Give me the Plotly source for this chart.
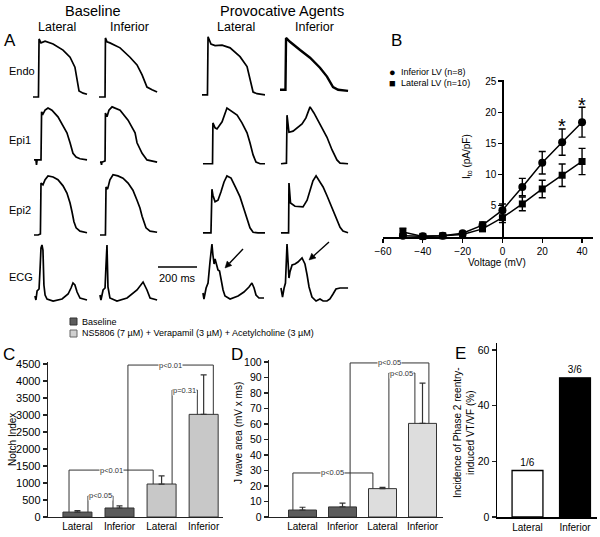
import math
import plotly.graph_objects as go

W, H = 600, 537
FONT = "Arial, 'Liberation Sans', sans-serif"


def fx(px):
    return px / W


def fy(py):
    return 1 - py / H


# ---------------- Panel B data (I-V relation) ----------------
voltage_mv = [-50, -40, -30, -20, -10, 0, 10, 20, 30, 40]
ito_inferior = [0.2, 0.1, 0.2, 0.6, 1.9, 4.3, 8.0, 11.9, 15.2, 18.4]
ito_inferior_err = [0.3, 0.1, 0.2, 0.3, 0.5, 1.0, 1.4, 1.8, 2.1, 2.4]
ito_lateral = [0.8, 0.1, 0.2, 0.4, 1.3, 3.1, 5.3, 7.7, 9.9, 12.1]
ito_lateral_err = [0.6, 0.1, 0.1, 0.2, 0.4, 0.8, 1.1, 1.4, 1.8, 2.1]
b_xticks = [-60, -40, -20, 0, 20, 40]
b_yticks = [5, 10, 15, 20, 25]

# ---------------- Panels C, D, E data ----------------
group_labels = ["Lateral", "Inferior", "Lateral", "Inferior"]
notch_index = [145, 265, 970, 3020]
notch_index_err = [40, 60, 240, 1160]
jwave_area = [4.5, 6.5, 18.3, 60.4]
jwave_area_err = [1.8, 2.4, 0.8, 26.0]
c_yticks = [0, 500, 1000, 1500, 2000, 2500, 3000, 3500, 4000, 4500]
d_yticks = [0, 10, 20, 30, 40, 50, 60, 70, 80, 90, 100]
e_labels = ["Lateral", "Inferior"]
e_incidence = [16.7, 50.0]
e_fraction = ["1/6", "3/6"]
e_yticks = [0, 20, 40, 60]

# ---------------- Panel A traces (time ms, membrane potential mV / ECG mV) ----------------
endo_base_lat_t = [0, 28, 31, 41, 62, 103, 154, 190, 215, 226, 236, 257, 277]
endo_base_lat_v = [-85, -85, 20, 13, 16, 11, 0, -13, -31, -54, -74, -78, -80]
endo_base_inf_t = [0, 31, 33, 41, 56, 108, 159, 195, 221, 246, 272, 298]
endo_base_inf_v = [-85, -85, 22, 15, 13, 4, -13, -27, -45, -67, -72, -76]
endo_prov_lat_t = [0, 28, 31, 46, 67, 103, 144, 195, 231, 246, 262, 282, 323]
endo_prov_lat_v = [-81, -81, 24, 11, 8, 9, 4, -12, -30, -54, -76, -79, -81]
endo_prov_inf_t = [0, 28, 31, 51, 103, 154, 205, 241, 272, 298, 349]
endo_prov_inf_v = [-72, -72, 22, 15, 0, -14, -32, -48, -67, -72, -74]

epi1_base_lat_t = [5, 15, 18, 21, 41, 44, 51, 62, 77, 97, 128, 154, 174, 190, 205, 221, 241, 277]
epi1_base_lat_v = [-83, -83, -92, -83, -83, 4, 0, 7, 11, 7, -5, -20, -34, -52, -71, -78, -81, -83]
epi1_base_inf_t = [5, 10, 13, 15, 31, 33, 41, 51, 67, 108, 149, 185, 195, 221, 246, 298]
epi1_base_inf_v = [-87, -87, -92, -87, -85, 2, -5, 7, 13, 7, -11, -34, -52, -71, -83, -87]
epi1_prov_lat_t = [5, 54, 56, 67, 77, 103, 128, 154, 180, 205, 231, 246, 262, 277, 298, 323]
epi1_prov_lat_v = [-90, -90, -16, -25, -27, -14, 11, 5, -2, -16, -34, -52, -74, -87, -90, -90]
epi1_prov_inf_t = [5, 33, 36, 41, 46, 67, 87, 113, 133, 154, 174, 195, 221, 241, 267, 292, 308, 349]
epi1_prov_inf_v = [-90, -89, -2, -20, -33, -31, -25, -18, -7, 13, 2, -11, -29, -42, -65, -83, -89, -90]

epi2_base_lat_t = [5, 26, 38, 41, 51, 62, 77, 103, 128, 154, 174, 190, 200, 210, 221, 241, 277]
epi2_base_lat_v = [-85, -85, -83, 9, 6, 15, 22, 20, 15, 4, -9, -27, -43, -61, -72, -78, -81]
epi2_base_inf_t = [5, 33, 36, 44, 56, 72, 97, 123, 149, 174, 195, 210, 221, 231, 241, 262, 298]
epi2_base_inf_v = [-85, -85, 2, -2, 15, 24, 22, 18, 9, -4, -22, -36, -51, -63, -72, -78, -80]
epi2_prov_lat_t = [5, 46, 51, 56, 67, 82, 97, 113, 128, 149, 174, 195, 215, 231, 246, 262, 287, 323]
epi2_prov_lat_v = [-81, -81, -2, -13, -25, -22, -7, 11, 22, 18, 0, -16, -38, -54, -72, -80, -81, -81]
epi2_prov_inf_t = [5, 44, 46, 49, 54, 77, 118, 139, 154, 169, 185, 205, 221, 241, 256, 277, 292, 308, 323, 349]
epi2_prov_inf_v = [-81, -81, 9, -13, -27, -33, -34, -22, -4, 13, 22, 11, 2, -14, -27, -45, -58, -71, -78, -81]

ecg_base_lat_t = [10, 15, 21, 31, 36, 41, 46, 51, 56, 62, 72, 103, 149, 180, 195, 205, 215, 226, 241, 277]
ecg_base_lat_v = [0.06, -0.02, 0.16, 0.2, 0.58, 1.02, 1.08, 0.98, 0.28, 0.08, 0, -0.04, 0, 0.1, 0.22, 0.32, 0.28, 0.14, 0.02, -0.02]
ecg_base_inf_t = [5, 10, 21, 31, 36, 41, 46, 56, 92, 144, 195, 226, 246, 262, 298]
ecg_base_inf_v = [0.08, -0.02, 0.18, 0.22, 0.68, 1.08, 0.24, 0.02, -0.04, 0.02, 0.18, 0.34, 0.18, 0.02, -0.02]
ecg_prov_lat_t = [5, 10, 21, 31, 41, 46, 51, 56, 62, 67, 74, 82, 90, 97, 108, 118, 144, 185, 215, 241, 256, 267, 277, 292, 318]
ecg_prov_lat_v = [0.12, 0, 0.22, 0.32, 0.74, 1.02, 1.1, 0.88, 0.7, 0.8, 0.7, 0.58, 0.56, 0.42, 0.18, 0.06, 0, 0.06, 0.14, 0.24, 0.32, 0.22, 0.08, 0.02, 0.02]
ecg_prov_inf_t = [5, 13, 21, 28, 36, 41, 46, 51, 62, 77, 92, 113, 128, 139, 149, 164, 185, 205, 221, 241, 256, 272, 287, 308, 349]
ecg_prov_inf_v = [0.22, 0.04, 0.22, 0.32, 1.1, 0.74, 0.42, 0.54, 0.68, 0.7, 0.74, 0.82, 0.7, 0.48, 0.24, 0.04, -0.04, 0, -0.04, -0.04, 0, 0.1, 0.2, 0.22, 0.22]

fig = go.Figure()

# ---------------- Panel A ----------------
PX_PER_MS = 39 / 200.0
MV_PX = 58 / 105.0
T_RANGE = [0, 360]
AP_RANGE = [-95, 30]
ECG_RANGE = [-0.15, 1.25]
ECG_PX = 50.0
col_px = [33, 99, 202, 280]
ap_rest_px = [97, 161, 235]
ecg_zero_px = 299

layout_axes = {}
for i, x0 in enumerate(col_px):
    n = 5 + i
    layout_axes["xaxis%d" % n] = dict(domain=[fx(x0), fx(x0 + T_RANGE[1] * PX_PER_MS)], range=T_RANGE,
                                      visible=False, anchor="y%d" % n, fixedrange=True, automargin=False)
for j, ref in enumerate(ap_rest_px):
    n = 5 + j
    top = ref - (AP_RANGE[1] + 85) * MV_PX
    bot = ref + (-85 - AP_RANGE[0]) * MV_PX
    layout_axes["yaxis%d" % n] = dict(domain=[fy(bot), fy(top)], range=AP_RANGE, visible=False,
                                      anchor="x%d" % n, fixedrange=True, automargin=False)
layout_axes["yaxis8"] = dict(domain=[fy(ecg_zero_px - ECG_RANGE[0] * ECG_PX), fy(ecg_zero_px - ECG_RANGE[1] * ECG_PX)],
                             range=ECG_RANGE, visible=False, anchor="x8", fixedrange=True, automargin=False)

rows = [
    [(endo_base_lat_t, endo_base_lat_v), (endo_base_inf_t, endo_base_inf_v),
     (endo_prov_lat_t, endo_prov_lat_v), (endo_prov_inf_t, endo_prov_inf_v)],
    [(epi1_base_lat_t, epi1_base_lat_v), (epi1_base_inf_t, epi1_base_inf_v),
     (epi1_prov_lat_t, epi1_prov_lat_v), (epi1_prov_inf_t, epi1_prov_inf_v)],
    [(epi2_base_lat_t, epi2_base_lat_v), (epi2_base_inf_t, epi2_base_inf_v),
     (epi2_prov_lat_t, epi2_prov_lat_v), (epi2_prov_inf_t, epi2_prov_inf_v)],
    [(ecg_base_lat_t, ecg_base_lat_v), (ecg_base_inf_t, ecg_base_inf_v),
     (ecg_prov_lat_t, ecg_prov_lat_v), (ecg_prov_inf_t, ecg_prov_inf_v)],
]
for r, row in enumerate(rows):
    for c, (t, v) in enumerate(row):
        lw = 2.4 if (r == 0 and c == 3) else 1.7
        fig.add_trace(go.Scatter(x=t, y=v, mode="lines", line=dict(color="black", width=lw),
                                 xaxis="x%d" % (5 + c), yaxis="y%d" % (5 + r), showlegend=False,
                                 hoverinfo="skip", cliponaxis=False))

# ---------------- Panel B ----------------
fig.add_trace(go.Scatter(x=voltage_mv, y=ito_inferior, mode="lines+markers",
                         line=dict(color="black", width=1.5),
                         marker=dict(symbol="circle", size=8, color="black"),
                         error_y=dict(type="data", array=ito_inferior_err, color="black", thickness=1.4, width=3.5),
                         xaxis="x", yaxis="y", showlegend=False, cliponaxis=False))
fig.add_trace(go.Scatter(x=voltage_mv, y=ito_lateral, mode="lines+markers",
                         line=dict(color="black", width=1.5),
                         marker=dict(symbol="square", size=7, color="black"),
                         error_y=dict(type="data", array=ito_lateral_err, color="black", thickness=1.4, width=3.5),
                         xaxis="x", yaxis="y", showlegend=False, cliponaxis=False))

B_XR = [-60, 45.5]
B_XPX = [383, 593]
zero_px = B_XPX[0] + (0 - B_XR[0]) / (B_XR[1] - B_XR[0]) * (B_XPX[1] - B_XPX[0])
B_YR = [0, 25.2]
B_Y0 = 237
B_UNIT = 6.24

axis_font = dict(family=FONT, size=10, color="black")
layout_axes["xaxis"] = dict(domain=[fx(B_XPX[0]), fx(B_XPX[1])], range=B_XR, anchor="y",
                            showline=True, linecolor="black", linewidth=1.5, ticks="outside", ticklen=4,
                            tickwidth=1.2, tickcolor="black", tickvals=b_xticks, showgrid=False, zeroline=False,
                            tickfont=axis_font, fixedrange=True, automargin=False)
layout_axes["yaxis"] = dict(domain=[fy(B_Y0), fy(B_Y0 - B_YR[1] * B_UNIT)], range=B_YR, anchor="free",
                            position=fx(zero_px), showline=True, linecolor="black", linewidth=1.5,
                            ticks="outside", ticklen=4, tickwidth=1.2, tickcolor="black", tickvals=b_yticks,
                            showgrid=False, zeroline=False, tickfont=axis_font, fixedrange=True, automargin=False)

# ---------------- Panels C, D, E ----------------
base_col = "#5c5c5c"
light_c = "#c8c8c8"
light_d = "#dddddd"
positions = [0, 1, 2, 3]
fig.add_trace(go.Bar(x=positions, y=notch_index, width=0.69,
                     marker=dict(color=[base_col, base_col, light_c, light_c], line=dict(color="#333333", width=1)),
                     error_y=dict(type="data", symmetric=False, array=notch_index_err,
                                  arrayminus=[0] * 4, color="#333333", thickness=1.2, width=3),
                     xaxis="x2", yaxis="y2", showlegend=False))
fig.add_trace(go.Bar(x=positions, y=jwave_area, width=0.70,
                     marker=dict(color=[base_col, base_col, light_d, light_d], line=dict(color="#333333", width=1)),
                     error_y=dict(type="data", symmetric=False, array=jwave_area_err,
                                  arrayminus=[0] * 4, color="#333333", thickness=1.2, width=3),
                     xaxis="x3", yaxis="y3", showlegend=False))
fig.add_trace(go.Bar(x=[0, 1], y=e_incidence, width=0.65, text=e_fraction, textposition="outside",
                     textfont=dict(family=FONT, size=10, color="black"), cliponaxis=False,
                     marker=dict(color=["white", "black"], line=dict(color="black", width=1.3)),
                     xaxis="x4", yaxis="y4", showlegend=False))

cat_x = dict(showline=True, linecolor="#222222", linewidth=1.3, ticks="", showgrid=False, zeroline=False,
             tickfont=axis_font, fixedrange=True, automargin=False)
val_y = dict(showline=True, linecolor="#222222", linewidth=1.3, ticks="outside", ticklen=4, tickwidth=1.2,
             tickcolor="#222222", showgrid=False, zeroline=False, fixedrange=True, automargin=False)

layout_axes["xaxis2"] = dict(cat_x, domain=[fx(48), fx(223)], range=[-0.70, 3.46], anchor="y2",
                             tickvals=positions, ticktext=group_labels)
layout_axes["yaxis2"] = dict(val_y, domain=[fy(517), fy(362)], range=[0, 4560], anchor="x2", tickvals=c_yticks,
                             tickfont=dict(family=FONT, size=11, color="black"))
layout_axes["xaxis3"] = dict(cat_x, domain=[fx(269), fx(443)], range=[-0.8375, 3.5125], anchor="y3",
                             tickvals=positions, ticktext=group_labels)
layout_axes["yaxis3"] = dict(val_y, domain=[fy(517), fy(360)], range=[0, 101.3], anchor="x3", tickvals=d_yticks,
                             tickfont=dict(family=FONT, size=10.5, color="black"))
layout_axes["xaxis4"] = dict(cat_x, domain=[fx(497), fx(597)], range=[-0.642, 1.463], anchor="y4",
                             tickvals=[0, 1], ticktext=e_labels, linewidth=1.5, linecolor="black")
layout_axes["yaxis4"] = dict(val_y, domain=[fy(517), fy(343)], range=[0, 62.5], anchor="x4", tickvals=e_yticks,
                             tickfont=dict(family=FONT, size=10.5, color="black"), linewidth=1.5, linecolor="black")

shapes = []
annotations = []


def bracket(xr, yr, xl, xrgt, ytop, yl, yrgt, label, fsize=7.5):
    shapes.append(dict(type="path", xref=xr, yref=yr,
                       path="M %f,%f L %f,%f L %f,%f L %f,%f" % (xl, yl, xl, ytop, xrgt, ytop, xrgt, yrgt),
                       line=dict(color="#333333", width=1)))
    annotations.append(dict(x=(xl + xrgt) / 2, y=ytop, xref=xr, yref=yr, text=label, showarrow=False,
                            font=dict(family=FONT, size=fsize, color="#333333"), bgcolor="white",
                            borderpad=0, xanchor="center", yanchor="middle"))


# Panel C brackets
bracket("x2", "y2", 1.20, 3.23, 4470, notch_index[1], notch_index[3], "p&lt;0.01")
bracket("x2", "y2", 2.25, 2.85, 3735, notch_index[2], notch_index[3], "p=0.31")
bracket("x2", "y2", -0.20, 1.80, 1380, notch_index[0], notch_index[2], "p&lt;0.01")
bracket("x2", "y2", 0.25, 0.845, 620, notch_index[0], notch_index[1], "p&lt;0.05")
# Panel D brackets
bracket("x3", "y3", -0.24, 1.76, 28.4, jwave_area[0], jwave_area[2], "p&lt;0.05")
bracket("x3", "y3", 1.19, 3.16, 99.4, jwave_area[1], jwave_area[3], "p&lt;0.05")
bracket("x3", "y3", 2.16, 2.81, 92.9, jwave_area[2], jwave_area[3], "p&lt;0.05")


def text(px, py, s, size, xanchor="center", angle=0, color="black"):
    annotations.append(dict(x=fx(px), y=fy(py), xref="paper", yref="paper", text=s, showarrow=False,
                            font=dict(family=FONT, size=size, color=color), xanchor=xanchor, yanchor="middle",
                            textangle=angle))


def arrow(tx, ty, hx, hy, head=6.5, half=3.2):
    dx, dy = hx - tx, hy - ty
    L = math.hypot(dx, dy)
    ux, uy = dx / L, dy / L
    nx, ny = -uy, ux
    bx, by = hx - head * ux, hy - head * uy
    shapes.append(dict(type="line", xref="paper", yref="paper", x0=fx(tx), y0=fy(ty), x1=fx(bx), y1=fy(by),
                       line=dict(color="black", width=1.4)))
    pts = [(hx, hy), (bx + half * nx, by + half * ny), (bx - half * nx, by - half * ny)]
    path = "M " + " L ".join("%f,%f" % (fx(px), fy(py)) for px, py in pts) + " Z"
    shapes.append(dict(type="path", xref="paper", yref="paper", path=path, fillcolor="black",
                       line=dict(color="black", width=0.5)))


# Panel A labels
text(10, 41, "A", 17)
text(93, 11, "Baseline", 14.5)
text(282, 11, "Provocative Agents", 14.5)
text(57, 27, "Lateral", 12.5)
text(129, 27, "Inferior", 12.5)
text(236, 27, "Lateral", 12.5)
text(314, 27, "Inferior", 12.5)
text(7, 71, "Endo", 11, xanchor="left")
text(7, 140, "Epi1", 11, xanchor="left")
text(7, 210, "Epi2", 11, xanchor="left")
text(7, 277, "ECG", 11, xanchor="left")
text(177, 278, "200 ms", 11)
shapes.append(dict(type="line", xref="paper", yref="paper", x0=fx(158), x1=fx(158 + 200 * PX_PER_MS),
                   y0=fy(267), y1=fy(267), line=dict(color="black", width=1.6)))
arrow(243, 249, 225, 268)
arrow(329, 242, 309, 260)

# Panel B labels
text(396, 41, "B", 17)
text(392, 72, "●", 11)
text(392, 83, "■", 11)
text(399, 72, "Inferior LV (n=8)", 9, xanchor="left")
text(399, 83, "Lateral LV (n=10)", 9, xanchor="left")
text(467, 157, "I<sub>to</sub> (pA/pF)", 10, angle=-90)
text(497, 262, "Voltage (mV)", 10)
annotations.append(dict(x=30, y=18.75, xref="x", yref="y", text="*", showarrow=False,
                        font=dict(family=FONT, size=20, color="black"), yshift=-6))
annotations.append(dict(x=40, y=22.1, xref="x", yref="y", text="*", showarrow=False,
                        font=dict(family=FONT, size=20, color="black"), yshift=-6))

# Panel C/D legend
shapes.append(dict(type="rect", xref="paper", yref="paper", x0=fx(70), x1=fx(77), y0=fy(325), y1=fy(318),
                   fillcolor=base_col, line=dict(color="#333333", width=1)))
shapes.append(dict(type="rect", xref="paper", yref="paper", x0=fx(70), x1=fx(77), y0=fy(337), y1=fy(330),
                   fillcolor="#d0d0d0", line=dict(color="#666666", width=1)))
text(80, 322, "Baseline", 9, xanchor="left")
text(80, 333, "NS5806 (7 µM) + Verapamil (3 µM) + Acetylcholine (3 µM)", 9, xanchor="left")

# Panel C/D/E labels
text(9, 354, "C", 17)
text(237, 354, "D", 17)
text(460, 353, "E", 17)
text(12, 440, "Notch Index", 10, angle=-90)
text(238, 433, "J wave area (mV x ms)", 10, angle=-90)
text(464, 433, "Incidence of Phase 2 reentry-<br>induced VT/VF (%)", 10, angle=-90)

fig.update_layout(
    template="none",
    width=W, height=H, autosize=False,
    margin=dict(l=0, r=0, t=0, b=0, autoexpand=False),
    paper_bgcolor="white", plot_bgcolor="rgba(0,0,0,0)",
    font=dict(family=FONT, size=10, color="black"),
    showlegend=False, barmode="overlay",
    shapes=shapes, annotations=annotations,
    **layout_axes,
)

# Remove the browser's default page margin so the 600x537 figure fills the window exactly.
fig.write_html("out.html", config={"displayModeBar": False, "staticPlot": True},
               post_script="document.body.style.margin='0';document.body.style.overflow='hidden';")
